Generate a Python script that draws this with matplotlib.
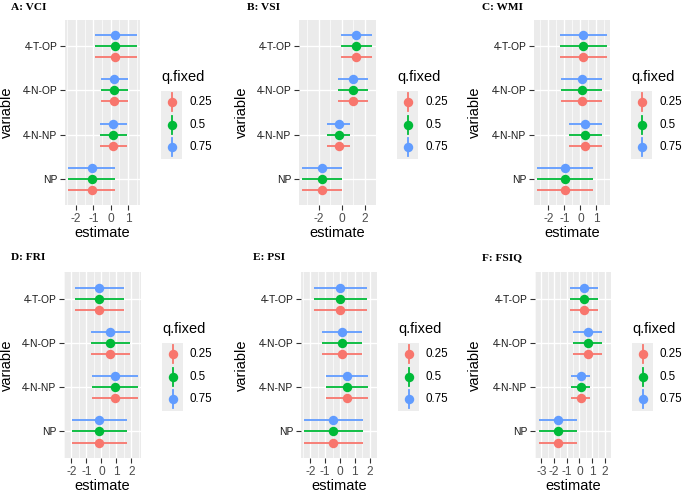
import matplotlib
matplotlib.use('Agg')
import matplotlib.pyplot as plt
import numpy as np

plt.rcParams['font.family'] = ['Liberation Sans', 'DejaVu Sans']
plt.rcParams['axes.unicode_minus'] = False

# ---------------- data ----------------
variables = ['NP', '4-N-NP', '4-N-OP', '4-T-OP']
q_levels = ['0.25', '0.5', '0.75']
q_colors = ['#F8766D', '#00BA38', '#619CFF']
panel_titles = ['A: VCI', 'B: VSI', 'C: WMI', 'D: FRI', 'E: PSI', 'F: FSIQ']

# order of values follows `variables`
vci_est = [-1.09, 0.15, 0.21, 0.27]
vci_lo = [-2.44, -0.62, -0.59, -0.91]
vci_hi = [0.23, 0.95, 1.00, 1.49]

vsi_est = [-1.68, -0.26, 0.97, 1.26]
vsi_lo = [-3.41, -1.29, -0.32, -0.09]
vsi_hi = [0.03, 0.74, 2.32, 2.62]

wmi_est = [-0.96, 0.31, 0.08, 0.17]
wmi_lo = [-2.68, -0.73, -1.22, -1.28]
wmi_hi = [0.78, 1.38, 1.38, 1.64]

fri_est = [-0.13, 0.91, 0.60, -0.13]
fri_lo = [-1.96, -0.64, -0.72, -1.77]
fri_hi = [1.68, 2.43, 1.89, 1.53]

psi_est = [-0.46, 0.50, 0.15, 0.02]
psi_lo = [-2.42, -0.94, -1.19, -1.73]
psi_hi = [1.54, 1.88, 1.48, 1.83]

fsiq_est = [-1.69, 0.10, 0.65, 0.36]
fsiq_lo = [-3.21, -0.65, -0.48, -0.77]
fsiq_hi = [-0.17, 0.87, 1.76, 1.47]

x_breaks = [[-2, -1, 0, 1], [-2, 0, 2], [-2, -1, 0, 1],
            [-2, -1, 0, 1, 2], [-2, -1, 0, 1, 2], [-3, -2, -1, 0, 1, 2]]

panels = [(vci_est, vci_lo, vci_hi), (vsi_est, vsi_lo, vsi_hi),
          (wmi_est, wmi_lo, wmi_hi), (fri_est, fri_lo, fri_hi),
          (psi_est, psi_lo, psi_hi), (fsiq_est, fsiq_lo, fsiq_hi)]

# ---------------- layout (pixels) ----------------
W, H = 685, 492
fig = plt.figure(figsize=(W / 100, H / 100), dpi=100)
fig.patch.set_facecolor('white')

def fx(x):
    return x / W

def fy(y):
    return 1 - y / H

def add_axes_px(x0, y0, x1, y1):
    return fig.add_axes([fx(x0), fy(y1), (x1 - x0) / W, (y1 - y0) / H])

plot_boxes = [(65, 20, 140, 205), (299, 20, 376, 205), (534, 20, 610, 205),
              (64, 272, 141, 458), (301, 272, 377, 458), (535, 272, 611, 458)]
title_pos = [(11, 7), (247, 7), (482, 7), (11, 258), (253, 258), (482, 258)]
ylab_x = [7, 242, 475, 7, 242, 475]

dodge = [-0.25, 0.0, 0.25]
ypos = np.arange(1, len(variables) + 1)
panel_bg = '#EBEBEB'

for i, (est, lo, hi) in enumerate(panels):
    x0, y0, x1, y1 = plot_boxes[i]
    ax = add_axes_px(x0, y0, x1, y1)
    ax.set_facecolor(panel_bg)
    for s in ax.spines.values():
        s.set_visible(False)
    est = np.array(est); lo = np.array(lo); hi = np.array(hi)
    dmin, dmax = lo.min(), hi.max()
    pad = 0.05 * (dmax - dmin)
    ax.set_xlim(dmin - pad, dmax + pad)
    ax.set_ylim(0.4, len(variables) + 0.6)
    br = x_breaks[i]
    step = br[1] - br[0]
    ax.set_xticks(br)
    ax.set_xticklabels([str(b) for b in br])
    minors = [b + step / 2 for b in [br[0] - step] + br]
    ax.set_xticks(minors, minor=True)
    ax.set_yticks(ypos)
    ax.set_yticklabels(variables)
    ax.grid(which='major', color='white', lw=1.0)
    ax.grid(which='minor', axis='x', color='white', lw=0.5)
    ax.set_axisbelow(True)
    ax.tick_params(axis='x', which='major', length=3.5, width=0.8, color='#333333',
                   labelsize=8.6, labelcolor='#4D4D4D', pad=2)
    ax.tick_params(axis='y', which='major', length=3.5, width=0.8, color='#333333',
                   labelsize=7.4, labelcolor='#1A1A1A', pad=2)
    ax.tick_params(which='minor', length=0)
    for k, q in enumerate(q_levels):
        yy = ypos + dodge[k]
        ax.errorbar(est, yy, xerr=[est - lo, hi - est], fmt='o', color=q_colors[k],
                    ecolor=q_colors[k], elinewidth=1.3, capsize=0, markersize=6.8,
                    markeredgewidth=0, zorder=3 + k)

    # panel title
    fig.text(fx(title_pos[i][0]), fy(title_pos[i][1]), panel_titles[i],
             family=['Liberation Serif', 'DejaVu Serif'], fontweight='bold',
             fontsize=8.2, ha='left', va='center')
    # axis titles
    fig.text(fx((x0 + x1) / 2), fy(y1 + 28), 'estimate', fontsize=10.5,
             ha='center', va='center', color='black')
    fig.text(fx(ylab_x[i]), fy((y0 + y1) / 2), 'variable', fontsize=10.5,
             ha='center', va='center', rotation=90, color='black')

    # legend
    kx0 = x1 + 21
    kw = 21
    ky0 = y0 + 71
    kh = 22.5
    lax = add_axes_px(kx0, ky0, kx0 + kw, ky0 + 3 * kh)
    lax.set_facecolor('#EDEDED')
    for s in lax.spines.values():
        s.set_visible(False)
    lax.set_xticks([]); lax.set_yticks([])
    lax.set_xlim(0, 1); lax.set_ylim(0, 3)
    for k, q in enumerate(q_levels):
        yc = 2.5 - k
        lax.plot([0.5, 0.5], [yc - 0.4, yc + 0.4], color=q_colors[k], lw=1.3)
        lax.plot([0.5], [yc], 'o', color=q_colors[k], markersize=6.8, markeredgewidth=0)
        fig.text(fx(kx0 + kw + 7), fy(ky0 + kh * (k + 0.5)), q, fontsize=8.4,
                 ha='left', va='center', color='black')
    fig.text(fx(kx0), fy(ky0 - 14), 'q.fixed', fontsize=10.5, ha='left',
             va='center', color='black')

fig.savefig('out.png', dpi=100, facecolor='white')
